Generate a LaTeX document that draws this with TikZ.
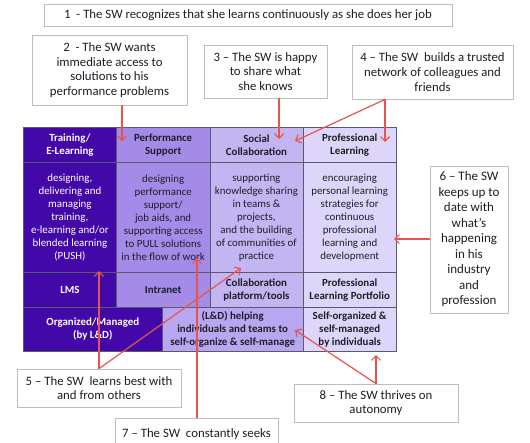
\documentclass[tikz,border=0pt]{standalone}
\usepackage{fontspec}
\setmainfont{Carlito}
\usetikzlibrary{arrows.meta}

% --- Colours ---
\definecolor{trainpurple}{RGB}{66,8,168}
\definecolor{perfpurple}{RGB}{164,139,232}
\definecolor{socialpurple}{RGB}{195,180,242}
\definecolor{profpurple}{RGB}{222,214,250}
\definecolor{helppurple}{RGB}{184,166,240}
\definecolor{gridgray}{RGB}{90,90,110}
\definecolor{boxgray}{RGB}{190,190,190}
\definecolor{arrowred}{RGB}{232,84,76}
\definecolor{inkdark}{RGB}{30,30,40}

\newcommand\calloutfont{\fontsize{12.8}{14.8}\selectfont}
\newcommand\cellfont{\fontsize{10.9}{13}\selectfont}

\tikzset{
  cell/.style={draw=gridgray, line width=0.6pt, anchor=north west, align=center,
    inner sep=0pt, font=\cellfont, text=inkdark},
  headcell/.style={cell, font=\cellfont\bfseries},
  darkcell/.style={fill=trainpurple, text=white},
  callout/.style={draw=boxgray, fill=white, line width=0.8pt, align=center,
    inner sep=0pt, font=\calloutfont, text=inkdark},
  redarrow/.style={draw=arrowred, line width=1.2pt,
    -{Straight Barb[length=4.5pt,width=9pt]}},
}

\begin{document}
\begin{tikzpicture}[x=1pt,y=-1pt]
    % --- Definitions for Proportions ---
    \def\cw{93.25pt}    % Column width
    \def\hh{35pt}       % Header / tools row height
    \def\bh{110pt}      % Body row height

    \useasboundingbox (0,0) rectangle (530,442);

    % --- Header row ---
    \node[headcell, darkcell, minimum width=\cw, minimum height=\hh] (trainhead) at (23,127) {Training/\\E-Learning};
    \node[headcell, fill=perfpurple, minimum width=\cw, minimum height=\hh] (perfhead) at (116.25,127) {Performance\\Support};
    \node[headcell, fill=socialpurple, minimum width=\cw, minimum height=\hh] (socialhead) at (209.5,127) {Social\\Collaboration};
    \node[headcell, fill=profpurple, minimum width=\cw, minimum height=\hh] (profhead) at (302.75,127) {Professional\\Learning};

    % --- Body row ---
    \node[cell, darkcell, minimum width=\cw, minimum height=\bh] (trainbody) at (23,162)
        {designing,\\delivering and\\managing\\training,\\e-learning and/or\\blended learning\\(PUSH)};
    \node[cell, fill=perfpurple, minimum width=\cw, minimum height=\bh] (perfbody) at (116.25,162)
        {designing\\performance\\support/\\job aids, and\\supporting access\\to PULL solutions\\in the flow of work};
    \node[cell, fill=socialpurple, minimum width=\cw, minimum height=\bh] (socialbody) at (209.5,162)
        {supporting\\knowledge sharing\\in teams \&\\projects,\\and the building\\of communities of\\practice};
    \node[cell, fill=profpurple, minimum width=\cw, minimum height=\bh] (profbody) at (302.75,162)
        {encouraging\\personal learning\\strategies for\\continuous\\professional\\learning and\\development};

    % --- Tools row ---
    \node[headcell, darkcell, minimum width=\cw, minimum height=\hh] (lms) at (23,272) {LMS};
    \node[headcell, fill=perfpurple, minimum width=\cw, minimum height=\hh] (intranet) at (116.25,272) {Intranet};
    \node[headcell, fill=socialpurple, minimum width=\cw, minimum height=\hh] (collabtools) at (209.5,272) {Collaboration\\platform/tools};
    \node[headcell, fill=profpurple, minimum width=\cw, minimum height=\hh] (portfolio) at (302.75,272) {Professional\\Learning Portfolio};

    % --- Bottom row ---
    \node[headcell, darkcell, minimum width=139pt, minimum height=44pt] (organized) at (23,307) {Organized/Managed\\(by L\&D)};
    \node[headcell, fill=helppurple, minimum width=140.75pt, minimum height=44pt] (helping) at (162,307)
        {(L\&D) helping\\individuals and teams to\\self-organize \& self-manage};
    \node[headcell, fill=profpurple, minimum width=\cw, minimum height=44pt] (selforg) at (302.75,307)
        {Self-organized \&\\self-managed\\by individuals};

    % --- Callouts ---
    \node[callout, minimum width=408pt, minimum height=22pt] (note1) at (248,15)
        {1\ \ - The SW recognizes that she learns continuously as she does her job};
    \node[callout, minimum width=155pt, minimum height=70pt] (note2) at (109.5,70)
        {2\ \ - The SW wants\\immediate access to\\solutions to his\\performance problems};
    \node[callout, minimum width=123pt, minimum height=53pt] (note3) at (265.5,71.5)
        {3 – The SW is happy\\to share what\\she knows};
    \node[callout, minimum width=161pt, minimum height=54pt] (note4) at (432.5,72)
        {4 – The SW\ \ builds a trusted\\network of colleagues and\\friends};
    \node[callout, font=\fontsize{13}{15.5}\selectfont, minimum width=78pt, minimum height=147pt] (note6) at (469,239.5)
        {6 – The SW\\keeps up to\\date with\\what’s\\happening\\in his\\industry\\and\\profession};
    \node[callout, minimum width=164pt, minimum height=38pt] (note5) at (99,388)
        {5 – The SW\ \ learns best with\\and from others};
    \node[callout, anchor=north, minimum width=163pt, minimum height=44pt] (note7) at (196.5,418)
        {7 – The SW\ \ constantly seeks\\\mbox{}};
    \node[callout, minimum width=164pt, minimum height=38pt] (note8) at (376,403)
        {8 – The SW thrives on\\autonomy};

    % --- Arrow tips ---
    \coordinate (tip2) at (122,141);
    \coordinate (tip3) at (279,139);
    \coordinate (tip4a) at (385,142);
    \coordinate (tip4b) at (295,141);
    \coordinate (tip6) at (394,239);
    \coordinate (tip5a) at (99,271);
    \coordinate (tip5b) at (241,268);
    \coordinate (tip7) at (197,258);
    \coordinate (tip8a) at (376,355);
    \coordinate (tip8b) at (295,330);

    % --- Arrows ---
    \draw[redarrow] (note2.south -| tip2) -- (tip2);
    \draw[redarrow] (note3.south -| tip3) -- (tip3);
    \draw[redarrow] (note4.south -| tip4a) -- (tip4a);
    \draw[redarrow] (note4.south -| tip4a) -- (tip4b);
    \draw[redarrow] (note6.west |- tip6) -- (tip6);
    \draw[redarrow] (note5.north -| tip5a) -- (tip5a);
    \draw[redarrow] (note5.north -| tip5a) -- (tip5b);
    \draw[redarrow] (note7.north -| tip7) -- (tip7);
    \draw[redarrow] (note8.north) -- (tip8a);
    \draw[redarrow] (note8.north) -- (tip8b);

\end{tikzpicture}
\end{document}
